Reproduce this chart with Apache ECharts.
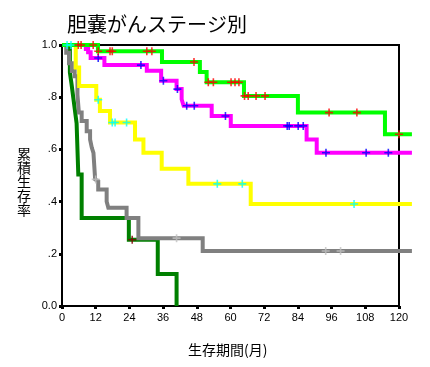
<!DOCTYPE html>
<html>
<head>
<meta charset="utf-8">
<script src="https://cdn.jsdelivr.net/npm/echarts@6/dist/echarts.min.js"></script>
<style>
html,body{margin:0;padding:0;background:#fff;}
#c{width:430px;height:367px;}
</style>
</head>
<body>
<div id="c"></div>
<script>
// ---- data (months, cumulative survival) ----
const xTicks = [0, 12, 24, 36, 48, 60, 72, 84, 96, 108, 120];
const xDataMax = 125;   // follow-up extends slightly past the last tick
const yTickLabels = {'0': '0.0', '0.2': '.2', '0.4': '.4', '0.6': '.6', '0.8': '.8', '1': '1.0'};

const greenTime = [0, 12.8, 35.6, 49.1, 51.5, 64.8, 84.0, 115.0, 124.6];
const greenSurv = [1.0, 0.976, 0.935, 0.897, 0.857, 0.805, 0.741, 0.658, 0.658];
const greenCens = [5.8, 6.8, 11.1, 12.9, 17.1, 17.9, 30.2, 32.0, 47.0, 52.1, 53.9, 60.2, 61.6, 63.0, 65.0, 66.3, 69.1, 72.3, 95.1, 105.0, 120.0];

const magentaTime = [0, 8.5, 9.3, 10.2, 15.1, 30.2, 35.3, 40.8, 42.6, 43.3, 53.3, 60.1, 87.1, 90.7, 124.6];
const magentaSurv = [1.0, 0.985, 0.972, 0.95, 0.923, 0.901, 0.863, 0.831, 0.792, 0.767, 0.728, 0.690, 0.638, 0.587, 0.587];
const magentaCens = [12.9, 28.1, 36.1, 41.1, 44.4, 47.1, 58.2, 80.2, 80.9, 84.1, 85.9, 94.0, 108.3, 116.2];

const yellowTime = [0, 4.9, 6.1, 12.2, 13.5, 17.1, 26.0, 29.0, 35.5, 45.0, 67.2, 124.6];
const yellowSurv = [1.0, 0.914, 0.843, 0.79, 0.747, 0.703, 0.638, 0.587, 0.526, 0.468, 0.391, 0.391];
const yellowCens = [1.8, 3.2, 12.9, 17.9, 18.9, 23.0, 55.3, 64.2, 104.0];

const grayTime = [0, 1.5, 2.5, 3.5, 4.5, 5.5, 6.0, 7.0, 8.8, 10.0, 10.6, 11.2, 11.8, 12.3, 12.9, 15.9, 16.5, 23.0, 27.2, 50.1, 124.6];
const graySurv = [1.0, 0.97, 0.93, 0.90, 0.88, 0.81, 0.741, 0.709, 0.67, 0.638, 0.607, 0.587, 0.485, 0.478, 0.446, 0.40, 0.376, 0.337, 0.26, 0.211, 0.211];
const grayCens = [12.0, 40.8, 93.9, 99.2];

const dkgreenTime = [0, 2.8, 3.4, 4.0, 4.6, 5.2, 5.8, 7.0, 23.8, 34.1, 40.8];
const dkgreenSurv = [1.0, 0.895, 0.85, 0.80, 0.75, 0.70, 0.504, 0.337, 0.254, 0.123, 0.0];
const dkgreenCens = [25.0];

// ---- helpers ----
function pairs(t, s) { return t.map((v, i) => [v, s[i]]); }
function survAt(t, s, x) {
  let v = s[0];
  for (let i = 0; i < t.length; i++) { if (t[i] <= x) v = s[i]; }
  return v;
}
function censPts(t, s, c) { return c.map(x => [x, survAt(t, s, x)]); }

const plus = 'path://M4,0H6V4H10V6H6V10H4V6H0V4H4Z';

function lineSeries(t, s, color) {
  return {
    type: 'line', step: 'end', data: pairs(t, s), showSymbol: false, symbol: 'none',
    xAxisIndex: 1, yAxisIndex: 1,
    clip: false, lineStyle: { color: color, width: 4, cap: 'butt', join: 'miter' },
    itemStyle: { color: color }, animation: false, z: 2
  };
}
function censSeries(t, s, c, color) {
  return {
    type: 'scatter', data: censPts(t, s, c), symbol: plus, symbolSize: 8,
    xAxisIndex: 1, yAxisIndex: 1,
    itemStyle: { color: color }, clip: false, animation: false, z: 5
  };
}

// axis frame grid: 0..120 ; data grid: 0..125 sharing the same left edge and scale
const L = 62, W = 337, T = 45, B = 61;
const dataW = W * xDataMax / xTicks[xTicks.length - 1];

const chart = echarts.init(document.getElementById('c'), null, { renderer: 'canvas' });
chart.setOption({
  backgroundColor: '#fff',
  animation: false,
  title: {
    text: '胆嚢がんステージ別', left: 62, top: 9,
    textStyle: { fontFamily: 'Noto Sans CJK JP', fontSize: 20, fontWeight: 'normal', color: '#000' }
  },
  grid: [
    { left: L, width: W, top: T, bottom: B, show: true, borderColor: '#000', borderWidth: 2, backgroundColor: 'transparent' },
    { left: L, width: dataW, top: T, bottom: B, show: false }
  ],
  xAxis: [{
    gridIndex: 0, type: 'value', min: xTicks[0], max: xTicks[xTicks.length - 1], interval: xTicks[1] - xTicks[0],
    axisLine: { lineStyle: { color: '#000', width: 2 } },
    axisTick: { show: true, length: 3, lineStyle: { color: '#000', width: 3 } },
    axisLabel: { color: '#000', fontFamily: 'Liberation Sans, Arial', fontSize: 11, margin: 6 },
    splitLine: { show: false }
  }, {
    gridIndex: 1, type: 'value', min: 0, max: xDataMax, show: false, splitLine: { show: false }
  }],
  yAxis: [{
    gridIndex: 0, type: 'value', min: 0, max: 1, interval: 0.2,
    axisLine: { lineStyle: { color: '#000', width: 2 } },
    axisTick: { show: true, length: 3, lineStyle: { color: '#000', width: 3 } },
    axisLabel: { color: '#000', fontFamily: 'Liberation Sans, Arial', fontSize: 11, margin: 5,
      formatter: v => yTickLabels[String(Math.round(v * 10) / 10)] },
    splitLine: { show: false }
  }, {
    gridIndex: 1, type: 'value', min: 0, max: 1, show: false, splitLine: { show: false }
  }],
  graphic: [
    { type: 'text', left: 17, top: 147, style: { text: '累\n積\n生\n存\n率', font: '14px "Noto Sans CJK JP"', lineHeight: 14, fill: '#000' } },
    { type: 'text', left: 188, top: 343, style: { text: '生存期間(月)', font: '14px "Noto Sans CJK JP"', fill: '#000' } }
  ],
  series: [
    lineSeries(dkgreenTime, dkgreenSurv, '#008000'),
    lineSeries(grayTime, graySurv, '#808080'),
    lineSeries(yellowTime, yellowSurv, '#FFFF00'),
    lineSeries(magentaTime, magentaSurv, '#FF00FF'),
    lineSeries(greenTime, greenSurv, '#00FF00'),
    censSeries(dkgreenTime, dkgreenSurv, dkgreenCens, '#800000'),
    censSeries(grayTime, graySurv, grayCens, '#C0C0C0'),
    censSeries(yellowTime, yellowSurv, yellowCens, '#00FFFF'),
    censSeries(magentaTime, magentaSurv, magentaCens, '#0000FF'),
    censSeries(greenTime, greenSurv, greenCens, '#FF0000')
  ]
});
</script>
</body>
</html>
